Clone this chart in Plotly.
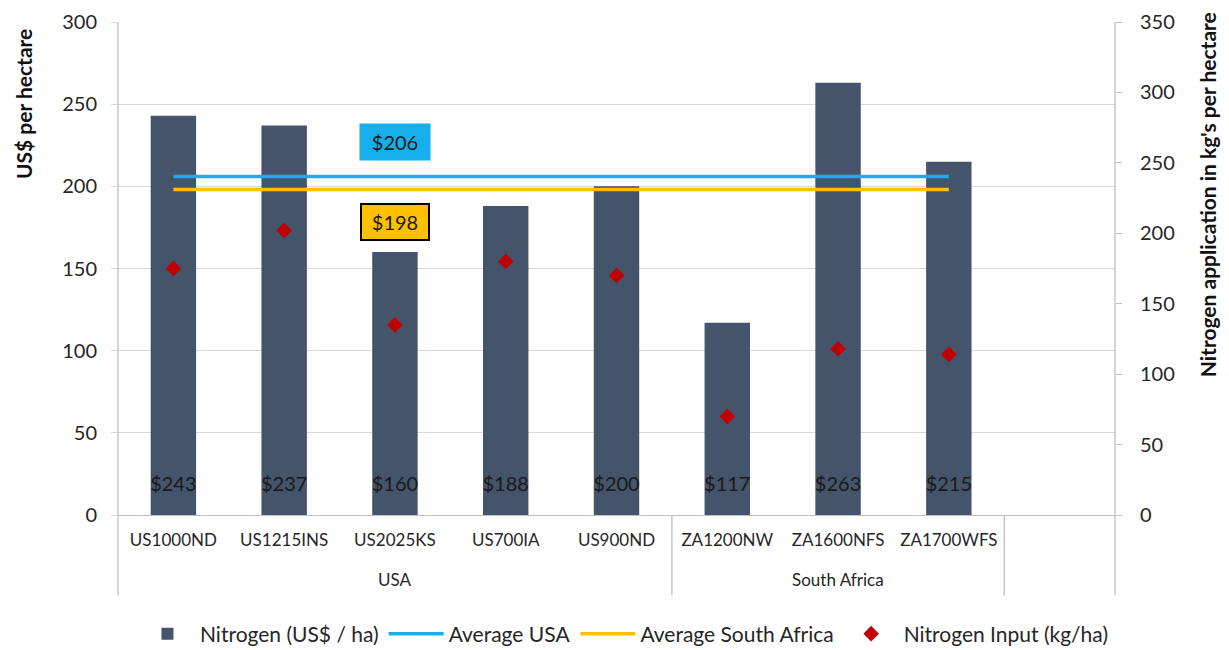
import plotly.graph_objects as go

categories = ["US1000ND", "US1215INS", "US2025KS", "US700IA", "US900ND",
              "ZA1200NW", "ZA1600NFS", "ZA1700WFS"]
groups = ["USA", "USA", "USA", "USA", "USA", "South Africa", "South Africa", "South Africa"]
cost_usd = [243, 237, 160, 188, 200, 117, 263, 215]
n_input_kg = [175, 202, 135, 180, 170, 70, 118, 114]
avg_usa = 206
avg_za = 198

FONT = "Lato"
BAR = "#44546A"
BLUE = "#16AFEC"
YELLOW = "#FFC000"
RED = "#C00000"
GRID = "#D9D9D9"
AXIS = "#BFBFBF"
TXT = "#262626"

fig = go.Figure()

fig.add_trace(go.Bar(
    x=categories, y=cost_usd, name="Nitrogen (US$ / ha)",
    marker=dict(color=BAR, line=dict(width=0)), width=0.41,
))
fig.add_trace(go.Scatter(
    x=categories, y=[avg_usa] * len(categories), name="Average USA",
    mode="lines", line=dict(color=BLUE, width=3.5),
))
fig.add_trace(go.Scatter(
    x=categories, y=[avg_za] * len(categories), name="Average South Africa",
    mode="lines", line=dict(color=YELLOW, width=3.5),
))
# data labels at the base of each bar
fig.add_trace(go.Scatter(
    x=categories, y=[17.5] * len(categories), mode="text",
    text=[f"${v}" for v in cost_usd], textposition="middle center",
    textfont=dict(family=FONT, size=20, color="#1a1a1a"),
    showlegend=False, hoverinfo="skip",
))
fig.add_trace(go.Scatter(
    x=categories, y=n_input_kg, name="Nitrogen Input (kg/ha)", yaxis="y2",
    mode="markers", marker=dict(symbol="diamond", size=12, color=RED),
))

# average labels
fig.add_annotation(x=categories[2], y=avg_usa + 21, text=f"${avg_usa}", showarrow=False,
                   font=dict(family=FONT, size=20, color="#1a1a1a"),
                   bgcolor=BLUE, borderpad=6, width=58)
fig.add_annotation(x=categories[2], y=avg_za - 20, text=f"${avg_za}", showarrow=False,
                   font=dict(family=FONT, size=20, color="#1a1a1a"),
                   bgcolor=YELLOW, bordercolor="#000000", borderwidth=2, borderpad=5, width=56)

# group labels
for g in ["USA", "South Africa"]:
    idx = [i for i, gg in enumerate(groups) if gg == g]
    fig.add_annotation(x=sum(idx) / len(idx), y=-0.131, xref="x", yref="paper",
                       xanchor="center", yanchor="middle",
                       text=g, showarrow=False,
                       font=dict(family=FONT, size=17, color=TXT))

# group dividers & extended axis lines
last_usa = max(i for i, g in enumerate(groups) if g == "USA")
for xv in [last_usa + 0.5, len(categories) - 0.5]:
    fig.add_shape(type="line", xref="x", yref="paper", x0=xv, x1=xv, y0=0, y1=-0.163,
                  line=dict(color=AXIS, width=1.3))
for xp in [0, 1]:
    fig.add_shape(type="line", xref="paper", yref="paper", x0=xp, x1=xp, y0=1, y1=-0.163,
                  line=dict(color=AXIS, width=1.3))

# axis titles
fig.add_annotation(x=-0.094, y=0.834, xref="paper", yref="paper", text="<b>US$ per hectare</b>",
                   xanchor="center", yanchor="middle",
                   textangle=-90, showarrow=False, font=dict(family=FONT, size=21, color="#111"))
fig.add_annotation(x=1.093, y=0.65, xref="paper", yref="paper",
                   xanchor="center", yanchor="middle",
                   text="<b>Nitrogen application in kg's per hectare</b>",
                   textangle=-90, showarrow=False, font=dict(family=FONT, size=21, color="#111"))

fig.update_layout(
    width=1229, height=650,
    margin=dict(l=118, r=114, t=22, b=135, autoexpand=False),
    plot_bgcolor="white", paper_bgcolor="white",
    font=dict(family=FONT, size=17, color=TXT),
    xaxis=dict(type="category", range=[-0.5, len(categories) + 0.5], automargin=False,
               showline=True, linecolor=AXIS, linewidth=1.3, showgrid=False,
               ticks="", ticklabelstandoff=9, tickfont=dict(size=17, color=TXT)),
    yaxis=dict(range=[0, 300], dtick=50, showgrid=True, gridcolor=GRID, gridwidth=1.3,
               automargin=False,
               zeroline=False, ticks="outside", ticklen=6, tickcolor=GRID,
               tickfont=dict(size=20, color=TXT), ticklabelstandoff=10),
    yaxis2=dict(range=[0, 350], dtick=50, overlaying="y", side="right", showgrid=False,
                automargin=False,
                zeroline=False, ticks="outside", ticklen=6, tickcolor=AXIS,
                tickfont=dict(size=20, color=TXT), ticklabelstandoff=14),
    legend=dict(orientation="h", x=0.508, xanchor="center", xref="paper",
                y=16 / 650, yanchor="middle", yref="container",
                font=dict(family=FONT, size=21, color=TXT), itemwidth=55,
                traceorder="normal"),
    showlegend=True,
)

fig.write_html("out.html")
